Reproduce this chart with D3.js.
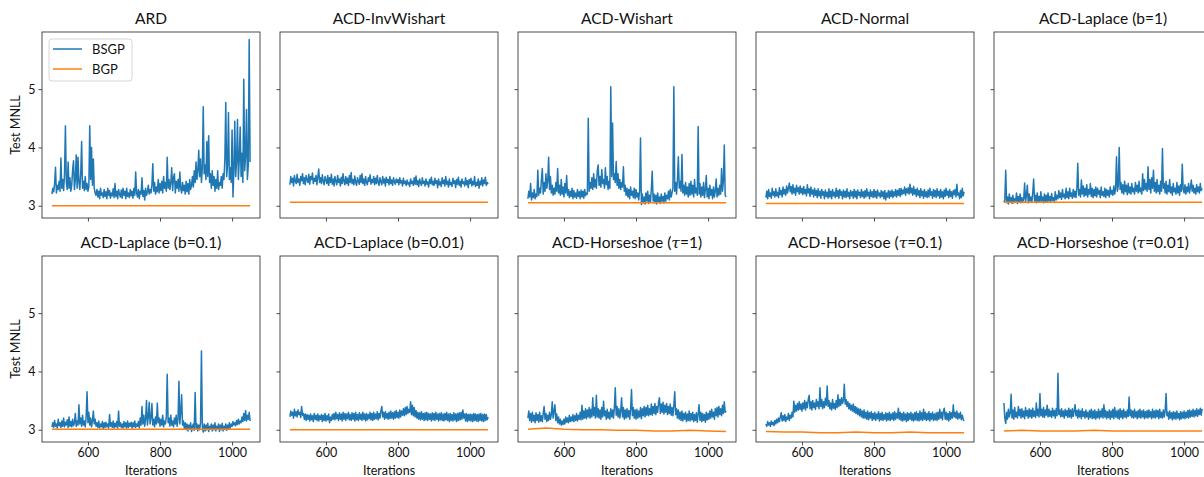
<!DOCTYPE html>
<html>
<head>
<meta charset="utf-8">
<title>Test MNLL</title>
<script src="https://d3js.org/d3.v7.min.js"></script>
<style>
  body { margin: 0; background: #fff; }
  svg text { font-family: Lato, "DejaVu Sans", sans-serif; fill: #111; }
</style>
</head>
<body>
<div id="chart"></div>
<script>

// iterations covered by every trace (points are evenly spaced in between)
var iterStart = 500, iterEnd = 1050;

var titles = ["ARD", "ACD-InvWishart", "ACD-Wishart", "ACD-Normal", "ACD-Laplace (b=1)",
              "ACD-Laplace (b=0.1)", "ACD-Laplace (b=0.01)", "ACD-Horseshoe (\u03c4=1)",
              "ACD-Horsesoe (\u03c4=0.1)", "ACD-Horseshoe (\u03c4=0.01)"];

var xTicks = [600, 800, 1000];
var yTicks = [3, 4, 5];
var seriesNames = ["BSGP", "BGP"];

// BSGP traces, one value every 2.5 iterations (each row = 25 iterations)
var ardBsgp = [
  3.20,3.30,3.24,3.38,3.66,3.22,3.35,3.28,3.42,3.25,
  3.82,3.30,3.45,3.26,3.55,4.37,3.40,3.28,3.75,3.30,
  3.48,3.25,3.35,3.62,3.77,3.28,3.45,3.87,3.30,3.83,
  3.40,3.28,3.55,4.10,3.30,3.42,3.26,3.50,3.28,3.38,
  3.25,3.32,4.37,3.45,4.00,3.35,3.80,3.30,3.22,3.18,
  3.28,3.15,3.25,3.12,3.30,3.18,3.22,3.14,3.28,3.16,
  3.24,3.12,3.30,3.18,3.26,3.13,3.22,3.17,3.29,3.14,
  3.38,3.16,3.25,3.12,3.28,3.20,3.15,3.27,3.13,3.30,
  3.18,3.25,3.12,3.30,3.16,3.22,3.14,3.28,3.17,3.25,
  3.13,3.30,3.18,3.58,3.22,3.15,3.28,3.12,3.25,3.20,
  3.48,3.16,3.26,3.10,3.30,3.18,3.24,3.35,3.20,3.28,
  3.22,3.35,3.72,3.25,3.40,3.20,3.32,3.24,3.45,3.22,
  3.38,3.26,3.42,3.22,3.50,3.30,3.40,3.25,3.83,3.30,
  3.45,3.28,3.40,3.65,3.26,3.48,3.55,3.22,3.42,3.30,
  3.45,3.25,3.58,3.30,3.22,3.40,3.26,3.35,3.20,3.42,
  3.24,3.38,3.20,3.45,3.28,3.35,3.50,3.32,3.60,3.40,
  3.75,3.45,3.60,3.95,3.50,3.80,3.40,3.65,4.70,3.55,
  3.70,3.45,4.10,3.50,4.20,3.40,3.55,3.30,3.60,3.35,
  3.50,3.25,3.45,3.30,3.60,3.28,3.40,3.35,3.50,3.30,
  3.55,3.45,3.80,4.77,3.50,3.70,4.60,3.45,3.65,3.40,
  4.30,3.15,3.60,4.45,3.50,3.75,4.48,3.45,3.80,4.35,
  3.50,3.90,3.40,5.17,3.60,3.85,4.65,3.45,3.70,5.85,
  3.75];
var invWishartBsgp = [
  3.36,3.50,3.40,3.47,3.34,3.52,3.42,3.38,3.54,3.40,
  3.46,3.35,3.50,3.43,3.55,3.38,3.48,3.36,3.52,3.44,
  3.40,3.54,3.37,3.50,3.45,3.56,3.38,3.47,3.42,3.52,
  3.36,3.50,3.63,3.40,3.48,3.38,3.53,3.42,3.36,3.50,
  3.44,3.38,3.52,3.35,3.48,3.40,3.54,3.37,3.46,3.34,
  3.50,3.42,3.36,3.52,3.40,3.46,3.34,3.49,3.38,3.55,
  3.42,3.36,3.50,3.38,3.47,3.35,3.52,3.40,3.57,3.38,
  3.45,3.36,3.51,3.40,3.35,3.48,3.42,3.37,3.52,3.40,
  3.55,3.38,3.46,3.35,3.50,3.40,3.36,3.48,3.42,3.53,
  3.37,3.45,3.40,3.50,3.36,3.47,3.38,3.52,3.40,3.35,
  3.48,3.41,3.36,3.50,3.39,3.46,3.34,3.49,3.40,3.45,
  3.36,3.50,3.38,3.44,3.35,3.48,3.41,3.37,3.46,3.40,
  3.45,3.36,3.48,3.39,3.43,3.34,3.47,3.38,3.42,3.35,
  3.44,3.37,3.40,3.33,3.46,3.38,3.42,3.35,3.48,3.37,
  3.51,3.36,3.43,3.33,3.46,3.39,3.35,3.48,3.38,3.42,
  3.34,3.46,3.37,3.41,3.32,3.45,3.38,3.49,3.36,3.42,
  3.35,3.47,3.38,3.43,3.31,3.46,3.36,3.41,3.33,3.48,
  3.38,3.44,3.34,3.50,3.37,3.42,3.32,3.46,3.36,3.40,
  3.33,3.47,3.38,3.43,3.31,3.45,3.37,3.49,3.35,3.42,
  3.32,3.46,3.38,3.41,3.34,3.48,3.36,3.43,3.31,3.45,
  3.38,3.47,3.34,3.42,3.36,3.50,3.33,3.40,3.35,3.46,
  3.30,3.42,3.36,3.48,3.34,3.44,3.38,3.49,3.35,3.40,
  3.37];
var wishartBsgp = [
  3.12,3.25,3.15,3.38,3.10,3.22,3.14,3.28,3.12,3.20,
  3.16,3.61,3.18,3.30,3.22,3.45,3.64,3.20,3.40,3.25,
  3.55,3.30,3.42,3.83,3.28,3.50,3.22,3.35,3.18,3.30,
  3.20,3.40,3.25,3.64,3.22,3.35,3.18,3.45,3.20,3.32,
  3.15,3.38,3.22,3.52,3.18,3.28,3.14,3.25,3.16,3.30,
  3.12,3.26,3.15,3.22,3.13,3.28,3.16,3.24,3.12,3.27,
  3.15,3.25,3.13,3.28,3.17,3.22,3.20,4.50,3.25,3.40,
  3.30,3.48,3.28,3.55,3.32,3.45,3.30,3.60,3.70,3.35,
  3.50,3.32,3.62,3.38,3.45,3.30,3.65,3.36,3.50,3.28,
  3.42,3.30,5.04,3.50,4.42,3.45,3.55,3.40,3.76,3.35,
  3.55,3.30,3.45,3.28,3.40,3.32,3.67,3.25,3.35,3.18,
  3.30,3.15,3.28,3.12,3.32,3.18,3.25,3.14,3.30,3.12,
  3.28,3.15,3.22,3.10,3.25,4.16,3.02,3.20,3.05,3.15,
  3.03,3.22,3.08,3.25,3.04,3.18,3.06,3.28,3.59,3.08,
  3.20,3.05,3.18,3.03,3.22,3.06,3.15,3.04,3.20,3.08,
  3.16,3.05,3.22,3.08,3.18,3.12,3.25,3.10,3.28,3.15,
  3.22,3.30,5.04,3.25,3.40,3.20,3.45,3.84,3.30,3.42,
  3.25,3.88,3.22,3.35,3.18,3.40,3.20,3.32,3.15,3.38,
  3.18,3.42,3.20,3.35,3.15,3.45,3.22,3.30,3.18,4.36,
  3.20,3.38,3.15,3.32,3.18,3.40,3.14,3.28,3.52,3.15,
  3.30,3.12,3.35,3.18,3.28,3.12,3.32,3.15,3.25,3.46,
  3.15,3.30,3.18,3.35,3.20,3.64,3.25,3.42,4.04,3.18,
  3.15];
var normalBsgp = [
  3.14,3.25,3.12,3.28,3.16,3.22,3.13,3.30,3.18,3.24,
  3.15,3.29,3.17,3.23,3.14,3.31,3.19,3.26,3.15,3.32,
  3.20,3.28,3.18,3.34,3.22,3.30,3.39,3.24,3.33,3.20,
  3.36,3.22,3.30,3.18,3.35,3.24,3.31,3.20,3.34,3.22,
  3.30,3.19,3.33,3.21,3.28,3.17,3.36,3.22,3.29,3.16,
  3.32,3.20,3.27,3.15,3.30,3.18,3.26,3.14,3.29,3.17,
  3.25,3.13,3.28,3.18,3.24,3.12,3.27,3.16,3.23,3.13,
  3.29,3.15,3.25,3.12,3.28,3.17,3.23,3.14,3.30,3.16,
  3.26,3.13,3.28,3.18,3.24,3.12,3.27,3.15,3.25,3.14,
  3.29,3.16,3.23,3.12,3.26,3.17,3.24,3.13,3.28,3.15,
  3.25,3.12,3.27,3.18,3.23,3.14,3.28,3.16,3.24,3.13,
  3.26,3.15,3.29,3.17,3.23,3.12,3.27,3.16,3.24,3.14,
  3.28,3.15,3.25,3.13,3.27,3.17,3.22,3.14,3.26,3.16,
  3.24,3.12,3.26,3.10,3.22,3.15,3.26,3.13,3.25,3.16,
  3.27,3.14,3.24,3.17,3.28,3.15,3.26,3.18,3.29,3.16,
  3.30,3.19,3.27,3.21,3.32,3.18,3.29,3.22,3.31,3.20,
  3.37,3.22,3.30,3.18,3.33,3.20,3.28,3.16,3.30,3.18,
  3.26,3.14,3.29,3.17,3.25,3.13,3.28,3.16,3.24,3.14,
  3.27,3.15,3.30,3.18,3.24,3.13,3.28,3.16,3.26,3.14,
  3.29,3.17,3.25,3.13,3.28,3.15,3.24,3.12,3.27,3.16,
  3.30,3.18,3.25,3.14,3.28,3.16,3.24,3.13,3.26,3.19,
  3.28,3.15,3.37,3.18,3.22,3.12,3.26,3.14,3.30,3.17,
  3.24];
var laplace1Bsgp = [
  3.06,3.10,3.61,3.05,3.15,3.03,3.20,3.06,3.14,3.04,
  3.18,3.05,3.12,3.08,3.22,3.04,3.16,3.06,3.20,3.05,
  3.14,3.07,3.12,3.39,3.06,3.18,3.35,3.05,3.20,3.08,
  3.15,3.06,3.22,3.46,3.08,3.18,3.05,3.22,3.07,3.16,
  3.06,3.24,3.08,3.15,3.05,3.20,3.07,3.18,3.06,3.22,
  3.08,3.16,3.06,3.21,3.09,3.14,3.07,3.24,3.10,3.18,
  3.12,3.26,3.14,3.22,3.11,3.28,3.15,3.20,3.12,3.30,
  3.14,3.24,3.12,3.30,3.16,3.22,3.13,3.28,3.15,3.25,
  3.14,3.30,3.73,3.18,3.28,3.15,3.44,3.20,3.34,3.16,
  3.30,3.18,3.36,3.15,3.28,3.20,3.38,3.16,3.30,3.14,
  3.28,3.17,3.32,3.15,3.30,3.20,3.26,3.14,3.32,3.18,
  3.24,3.16,3.30,3.14,3.28,3.18,3.26,3.15,3.32,3.20,
  3.26,3.18,3.34,3.20,3.30,3.84,3.25,3.35,4.00,3.28,
  3.40,3.22,3.36,3.20,3.42,3.24,3.35,3.19,3.38,3.22,
  3.32,3.20,3.38,3.24,3.30,3.20,3.40,3.25,3.35,3.22,
  3.42,3.24,3.30,3.20,3.55,3.26,3.45,3.28,3.38,3.25,
  3.67,3.28,3.45,3.22,3.48,3.30,3.61,3.25,3.40,3.22,
  3.45,3.24,3.35,3.20,3.42,3.25,3.98,3.30,3.38,3.22,
  3.42,3.20,3.35,3.24,3.45,3.22,3.32,3.18,3.38,3.24,
  3.30,3.20,3.40,3.22,3.34,3.18,3.36,3.25,3.71,3.28,
  3.22,3.36,3.20,3.32,3.24,3.38,3.22,3.30,3.44,3.25,
  3.35,3.22,3.30,3.20,3.36,3.24,3.32,3.22,3.38,3.26,
  3.30];
var laplace01Bsgp = [
  3.05,3.12,3.04,3.16,3.06,3.10,3.03,3.18,3.07,3.12,
  3.04,3.15,3.06,3.20,3.05,3.13,3.08,3.17,3.04,3.22,
  3.06,3.14,3.05,3.18,3.07,3.12,3.28,3.06,3.15,3.08,
  3.43,3.10,3.20,3.06,3.25,3.08,3.15,3.05,3.22,3.65,
  3.12,3.30,3.08,3.20,3.05,3.15,3.32,3.10,3.18,3.06,
  3.12,3.04,3.15,3.03,3.10,3.05,3.14,3.02,3.12,3.04,
  3.13,3.05,3.10,3.03,3.26,3.06,3.12,3.04,3.15,3.03,
  3.11,3.05,3.14,3.03,3.32,3.06,3.12,3.04,3.10,3.03,
  3.14,3.05,3.12,3.03,3.15,3.04,3.11,3.06,3.13,3.03,
  3.12,3.05,3.15,3.04,3.10,3.06,3.14,3.03,3.20,3.08,
  3.40,3.10,3.25,3.06,3.18,3.50,3.08,3.22,3.47,3.10,
  3.20,3.45,3.08,3.18,3.05,3.22,3.10,3.46,3.12,3.20,
  3.06,3.18,3.08,3.25,3.05,3.15,3.10,3.22,3.95,3.12,
  3.20,3.06,3.25,3.08,3.15,3.05,3.20,3.10,3.25,3.06,
  3.18,3.83,3.10,3.30,3.60,3.08,3.15,3.02,3.12,3.00,
  3.10,2.98,3.08,3.02,3.12,2.97,3.06,3.10,2.99,3.64,
  3.02,3.10,2.98,3.08,3.00,3.12,4.35,3.05,2.96,3.10,
  2.98,3.08,3.00,3.11,2.97,3.06,3.02,3.10,2.98,3.08,
  3.00,3.12,2.98,3.06,3.01,3.10,2.97,3.08,3.00,3.11,
  2.98,3.06,3.02,3.10,2.99,3.08,3.01,3.12,3.03,3.10,
  3.06,3.14,3.08,3.12,3.07,3.16,3.09,3.18,3.10,3.15,
  3.12,3.22,3.14,3.28,3.16,3.33,3.15,3.25,3.18,3.30,
  3.15];
var laplace001Bsgp = [
  3.22,3.32,3.25,3.30,3.20,3.35,3.24,3.31,3.22,3.34,
  3.26,3.30,3.21,3.40,3.25,3.28,3.18,3.27,3.16,3.26,
  3.18,3.25,3.15,3.27,3.17,3.24,3.14,3.28,3.18,3.25,
  3.16,3.27,3.15,3.24,3.18,3.26,3.14,3.25,3.16,3.28,
  3.15,3.24,3.17,3.27,3.12,3.22,3.16,3.26,3.18,3.28,
  3.17,3.30,3.19,3.26,3.16,3.29,3.18,3.27,3.15,3.30,
  3.18,3.28,3.16,3.27,3.19,3.30,3.17,3.26,3.16,3.29,
  3.18,3.28,3.15,3.30,3.17,3.26,3.16,3.29,3.18,3.27,
  3.16,3.30,3.18,3.27,3.15,3.28,3.17,3.26,3.19,3.30,
  3.17,3.28,3.16,3.30,3.18,3.27,3.19,3.31,3.17,3.28,
  3.20,3.32,3.40,3.22,3.30,3.18,3.31,3.20,3.28,3.18,
  3.30,3.19,3.32,3.20,3.29,3.18,3.31,3.20,3.33,3.21,
  3.30,3.20,3.34,3.22,3.32,3.25,3.36,3.24,3.38,3.26,
  3.40,3.28,3.35,3.30,3.48,3.26,3.42,3.24,3.38,3.22,
  3.33,3.20,3.30,3.18,3.29,3.17,3.31,3.18,3.28,3.16,
  3.29,3.17,3.30,3.16,3.28,3.18,3.27,3.15,3.29,3.17,
  3.28,3.16,3.30,3.18,3.27,3.15,3.28,3.17,3.29,3.16,
  3.27,3.15,3.28,3.17,3.30,3.16,3.27,3.14,3.28,3.16,
  3.26,3.15,3.29,3.17,3.27,3.14,3.28,3.16,3.29,3.17,
  3.30,3.18,3.34,3.20,3.27,3.15,3.28,3.14,3.26,3.16,
  3.27,3.15,3.26,3.14,3.28,3.16,3.27,3.15,3.26,3.14,
  3.27,3.16,3.28,3.15,3.26,3.14,3.27,3.16,3.26,3.17,
  3.22];
var horse1Bsgp = [
  3.20,3.32,3.16,3.28,3.13,3.30,3.15,3.25,3.12,3.29,
  3.16,3.26,3.13,3.30,3.15,3.24,3.14,3.28,3.40,3.18,
  3.28,3.14,3.25,3.16,3.30,3.18,3.26,3.48,3.20,3.32,
  3.43,3.16,3.27,3.12,3.22,3.10,3.18,3.08,3.15,3.09,
  3.18,3.10,3.22,3.13,3.20,3.12,3.25,3.14,3.22,3.15,
  3.26,3.14,3.24,3.16,3.28,3.15,3.25,3.18,3.30,3.17,
  3.42,3.18,3.32,3.20,3.36,3.19,3.34,3.22,3.38,3.20,
  3.35,3.22,3.55,3.24,3.38,3.20,3.59,3.22,3.36,3.20,
  3.34,3.18,3.38,3.22,3.49,3.24,3.32,3.18,3.35,3.20,
  3.30,3.18,3.36,3.22,3.34,3.20,3.38,3.72,3.25,3.40,
  3.22,3.36,3.20,3.32,3.55,3.22,3.38,3.18,3.34,3.20,
  3.36,3.22,3.33,3.18,3.35,3.69,3.24,3.38,3.20,3.34,
  3.18,3.35,3.20,3.32,3.22,3.38,3.19,3.36,3.24,3.40,
  3.22,3.38,3.25,3.42,3.24,3.36,3.26,3.44,3.25,3.40,
  3.28,3.45,3.26,3.40,3.30,3.46,3.55,3.28,3.44,3.30,
  3.47,3.27,3.42,3.30,3.45,3.26,3.40,3.28,3.44,3.25,
  3.38,3.24,3.42,3.65,3.26,3.36,3.20,3.34,3.18,3.30,
  3.16,3.32,3.15,3.28,3.18,3.30,3.14,3.27,3.16,3.32,
  3.15,3.28,3.17,3.30,3.14,3.26,3.16,3.29,3.13,3.27,
  3.43,3.16,3.30,3.14,3.28,3.16,3.26,3.13,3.30,3.17,
  3.28,3.18,3.32,3.20,3.35,3.22,3.30,3.18,3.36,3.24,
  3.38,3.22,3.40,3.26,3.36,3.24,3.42,3.28,3.48,3.30,
  3.32];
var horse01Bsgp = [
  3.10,3.06,3.14,3.08,3.12,3.06,3.15,3.09,3.13,3.07,
  3.16,3.10,3.18,3.12,3.20,3.14,3.22,3.29,3.15,3.24,
  3.16,3.26,3.14,3.22,3.18,3.28,3.16,3.25,3.20,3.30,
  3.22,3.49,3.30,3.42,3.32,3.45,3.34,3.48,3.35,3.44,
  3.32,3.46,3.36,3.50,3.34,3.47,3.38,3.52,3.59,3.36,
  3.48,3.34,3.50,3.38,3.46,3.35,3.52,3.40,3.48,3.36,
  3.72,3.40,3.52,3.36,3.48,3.38,3.54,3.42,3.75,3.40,
  3.50,3.36,3.46,3.34,3.52,3.37,3.45,3.35,3.50,3.38,
  3.60,3.40,3.52,3.42,3.55,3.45,3.50,3.78,3.44,3.52,
  3.40,3.48,3.36,3.45,3.34,3.42,3.32,3.44,3.30,3.40,
  3.28,3.38,3.26,3.36,3.24,3.35,3.22,3.32,3.20,3.34,
  3.20,3.30,3.18,3.32,3.17,3.29,3.20,3.31,3.16,3.28,
  3.18,3.30,3.16,3.27,3.19,3.31,3.15,3.28,3.17,3.30,
  3.16,3.26,3.18,3.29,3.15,3.28,3.17,3.30,3.16,3.27,
  3.18,3.29,3.16,3.31,3.18,3.28,3.20,3.37,3.18,3.30,
  3.16,3.28,3.15,3.30,3.17,3.27,3.14,3.29,3.16,3.28,
  3.18,3.30,3.16,3.27,3.15,3.29,3.17,3.31,3.16,3.28,
  3.15,3.32,3.17,3.29,3.16,3.35,3.18,3.30,3.16,3.28,
  3.17,3.31,3.15,3.28,3.18,3.30,3.16,3.27,3.17,3.29,
  3.16,3.30,3.18,3.35,3.20,3.30,3.17,3.32,3.37,3.18,
  3.30,3.17,3.28,3.15,3.31,3.18,3.29,3.20,3.43,3.22,
  3.30,3.20,3.32,3.18,3.28,3.20,3.30,3.17,3.25,3.18,
  3.15];
var horse001Bsgp = [
  3.46,3.20,3.11,3.30,3.18,3.35,3.22,3.28,3.61,3.20,
  3.34,3.18,3.38,3.22,3.30,3.20,3.40,3.24,3.35,3.20,
  3.36,3.22,3.32,3.19,3.38,3.24,3.33,3.20,3.36,3.22,
  3.34,3.20,3.37,3.23,3.32,3.21,3.46,3.24,3.35,3.22,
  3.62,3.24,3.35,3.22,3.38,3.21,3.34,3.25,3.42,3.22,
  3.35,3.23,3.32,3.21,3.37,3.24,3.33,3.20,3.36,3.24,
  3.97,3.26,3.34,3.22,3.36,3.23,3.32,3.20,3.35,3.24,
  3.33,3.21,3.37,3.22,3.34,3.20,3.36,3.23,3.32,3.43,
  3.24,3.33,3.20,3.35,3.22,3.32,3.19,3.36,3.23,3.31,
  3.20,3.34,3.22,3.30,3.18,3.33,3.21,3.35,3.19,3.32,
  3.20,3.34,3.18,3.31,3.21,3.35,3.19,3.32,3.22,3.36,
  3.20,3.43,3.22,3.33,3.19,3.31,3.21,3.34,3.18,3.32,
  3.21,3.35,3.19,3.38,3.22,3.32,3.20,3.34,3.18,3.36,
  3.21,3.33,3.19,3.35,3.22,3.31,3.20,3.34,3.23,3.56,
  3.24,3.34,3.21,3.32,3.20,3.35,3.22,3.31,3.19,3.33,
  3.21,3.35,3.20,3.32,3.22,3.34,3.19,3.31,3.21,3.33,
  3.20,3.34,3.22,3.31,3.19,3.35,3.21,3.32,3.20,3.34,
  3.22,3.33,3.19,3.35,3.21,3.30,3.20,3.34,3.22,3.32,
  3.62,3.24,3.30,3.18,3.32,3.20,3.29,3.17,3.31,3.19,
  3.30,3.18,3.32,3.20,3.28,3.17,3.31,3.19,3.30,3.20,
  3.32,3.19,3.30,3.21,3.33,3.20,3.34,3.22,3.32,3.23,
  3.35,3.22,3.33,3.24,3.36,3.23,3.34,3.26,3.37,3.25,
  3.36];

// BGP traces, one value every 50 iterations
var ardBgp = [3.00,3.00,3.00,3.00,3.00,3.00,3.00,3.00,3.00,3.00,3.00,3.00];
var invWishartBgp = [3.06,3.06,3.06,3.06,3.06,3.06,3.06,3.06,3.06,3.06,3.06,3.06];
var wishartBgp = [3.05,3.05,3.05,3.05,3.05,3.05,3.05,3.05,3.05,3.05,3.05,3.05];
var normalBgp = [3.04,3.04,3.04,3.04,3.04,3.04,3.04,3.04,3.04,3.04,3.04,3.04];
var laplace1Bgp = [3.06,3.06,3.06,3.06,3.06,3.06,3.06,3.06,3.06,3.06,3.06,3.06];
var laplace01Bgp = [3.01,3.01,3.01,3.01,3.01,3.01,3.01,3.01,3.01,3.01,3.01,3.01];
var laplace001Bgp = [3.00,3.00,3.00,3.00,3.00,3.00,3.00,3.00,3.00,3.00,3.00,3.00];
var horse1Bgp = [3.01,3.03,3.01,3.00,3.00,2.99,2.99,2.98,2.98,2.99,2.98,2.97];
var horse01Bgp = [2.97,2.96,2.96,2.95,2.95,2.96,2.95,2.95,2.96,2.95,2.95,2.95];
var horse001Bgp = [2.98,2.99,2.98,2.98,2.98,2.99,2.98,2.98,2.98,2.98,2.98,2.98];

var bsgpList = [ardBsgp, invWishartBsgp, wishartBsgp, normalBsgp, laplace1Bsgp,
                laplace01Bsgp, laplace001Bsgp, horse1Bsgp, horse01Bsgp, horse001Bsgp];
var bgpList = [ardBgp, invWishartBgp, wishartBgp, normalBgp, laplace1Bgp,
               laplace01Bgp, laplace001Bgp, horse1Bgp, horse01Bgp, horse001Bgp];

var colors = ["#1f77b4", "#ff7f0e"];

var svgDims = {width: 1204, height: 477};
var colLeft = [42, 280, 518, 756, 994];
var rowTop = [32, 256];
var panelW = 218, panelH = 186;

var svg = d3.select("#chart").append("svg")
    .attr("width", svgDims.width)
    .attr("height", svgDims.height);

var x_scale = d3.scaleLinear().domain([472.5, 1077.5]).range([0, panelW]);
var y_scale = d3.scaleLinear().domain([2.79, 5.98]).range([panelH, 0]);

function toPoints(vals) {
  var step = (iterEnd - iterStart) / (vals.length - 1);
  return vals.map(function(v, i) { return {x: iterStart + i * step, y: v}; });
}

var line = d3.line()
    .x(function(d) { return x_scale(d.x); })
    .y(function(d) { return y_scale(d.y); });

function writeTitle(sel, t) {
  // tau is drawn as an italic math symbol
  var parts = t.split("\u03c4");
  sel.append("tspan").text(parts[0]);
  if (parts.length > 1) {
    sel.append("tspan").attr("font-style", "italic")
      .style("font-family", "'DejaVu Serif', serif").text("\u03c4");
    sel.append("tspan").text(parts[1]);
  }
}

for (var p = 0; p < 10; p++) {
  var row = Math.floor(p / 5), col = p % 5;
  var g = svg.append("g")
      .attr("transform", "translate(" + colLeft[col] + "," + rowTop[row] + ")");

  var xAxis = d3.axisBottom(x_scale).tickValues(xTicks).tickSize(3.5).tickPadding(3)
      .tickFormat(row == 1 ? d3.format("d") : "");
  var yAxis = d3.axisLeft(y_scale).tickValues(yTicks).tickSize(3.5).tickPadding(3)
      .tickFormat(col == 0 ? d3.format("d") : "");

  var gx = g.append("g").attr("transform", "translate(0," + panelH + ")").call(xAxis);
  var gy = g.append("g").call(yAxis);
  [gx, gy].forEach(function(a) {
    a.select(".domain").remove();
    a.selectAll("line").attr("stroke", "#222").attr("stroke-width", 0.8);
    a.selectAll("text").attr("font-size", 12.5).attr("fill", "#111")
      .style("font-family", "Lato, 'DejaVu Sans', sans-serif");
  });

  g.append("path")
      .datum(toPoints(bsgpList[p]))
      .attr("fill", "none")
      .attr("stroke", colors[0])
      .attr("stroke-width", 1.5)
      .attr("stroke-linejoin", "round")
      .attr("d", line);

  g.append("path")
      .datum(toPoints(bgpList[p]))
      .attr("fill", "none")
      .attr("stroke", colors[1])
      .attr("stroke-width", 1.5)
      .attr("d", line);

  g.append("rect")
      .attr("width", panelW).attr("height", panelH)
      .attr("fill", "none").attr("stroke", "#222").attr("stroke-width", 0.8);

  var title = g.append("text")
      .attr("x", panelW / 2).attr("y", -8)
      .attr("text-anchor", "middle")
      .attr("font-size", 15.5);
  writeTitle(title, titles[p]);

  if (row == 1) {
    g.append("text")
        .attr("x", panelW / 2).attr("y", panelH + 33)
        .attr("text-anchor", "middle").attr("font-size", 12.5)
        .text("Iterations");
  }
  if (col == 0) {
    g.append("text")
        .attr("transform", "translate(-22," + (panelH / 2) + ") rotate(-90)")
        .attr("text-anchor", "middle").attr("font-size", 12.5)
        .text("Test MNLL");
  }

  // legend only on the first panel
  if (p == 0) {
    var lg = g.append("g").attr("transform", "translate(7,7)");
    lg.append("rect").attr("width", 83).attr("height", 42).attr("rx", 3)
      .attr("fill", "#fff").attr("fill-opacity", 0.8)
      .attr("stroke", "#ccc").attr("stroke-width", 0.8);
    seriesNames.forEach(function(name, i) {
      lg.append("line").attr("x1", 4).attr("x2", 33)
        .attr("y1", 10 + i * 20).attr("y2", 10 + i * 20)
        .attr("stroke", colors[i]).attr("stroke-width", 1.5);
      lg.append("text").attr("x", 43).attr("y", 14.5 + i * 20)
        .attr("font-size", 13).text(name);
    });
  }
}
</script>
</body>
</html>
